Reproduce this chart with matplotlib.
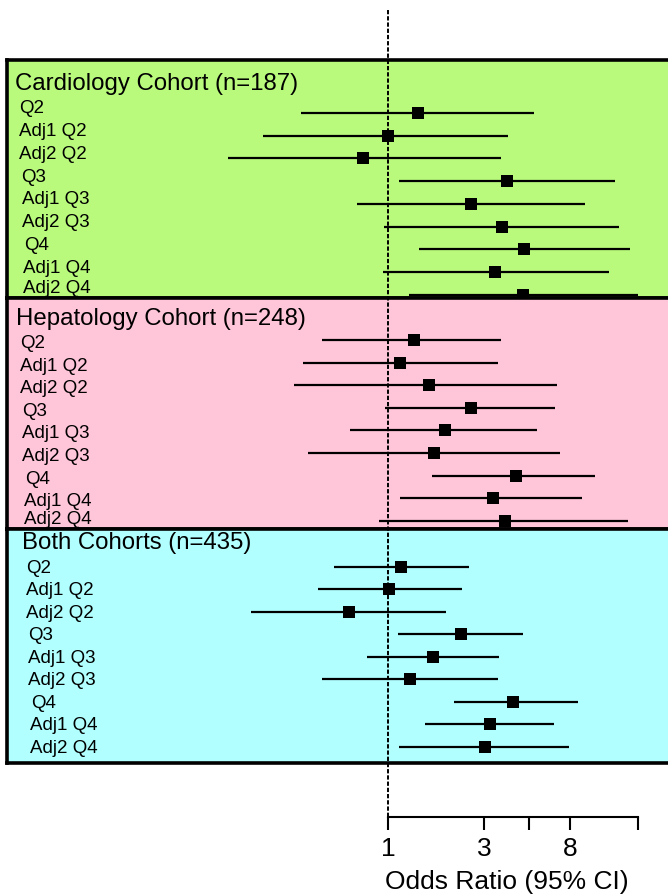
import numpy as np
import matplotlib.pyplot as plt
from matplotlib.lines import Line2D
from matplotlib.ticker import NullLocator
from matplotlib.transforms import blended_transform_factory

plt.rcParams['font.family'] = ['Liberation Sans', 'DejaVu Sans']

rows = ["Q2", "Adj1 Q2", "Adj2 Q2", "Q3", "Adj1 Q3", "Adj2 Q3", "Q4", "Adj1 Q4", "Adj2 Q4"]
cohorts = ["Cardiology Cohort (n=187)", "Hepatology Cohort (n=248)", "Both Cohorts (n=435)"]

# odds ratios with 95% CI
cardio_or = [1.41, 1.00, 0.75, 3.91, 2.59, 3.69, 4.75, 3.41, 4.69]
cardio_lo = [0.37, 0.24, 0.16, 1.14, 0.70, 0.96, 1.42, 0.94, 1.27]
cardio_hi = [5.29, 3.93, 3.63, 13.4, 9.50, 14.0, 15.8, 12.5, 17.4]

hepato_or = [1.34, 1.15, 1.59, 2.59, 1.92, 1.70, 4.33, 3.33, 3.82]
hepato_lo = [0.47, 0.38, 0.34, 0.97, 0.65, 0.40, 1.66, 1.15, 0.90]
hepato_hi = [3.63, 3.50, 6.92, 6.74, 5.47, 7.17, 10.7, 9.15, 15.6]

both_or = [1.16, 1.01, 0.64, 2.31, 1.68, 1.29, 4.19, 3.22, 3.04]
both_lo = [0.54, 0.45, 0.21, 1.12, 0.79, 0.47, 2.13, 1.53, 1.13]
both_hi = [2.53, 2.33, 1.95, 4.66, 3.57, 3.52, 8.74, 6.69, 7.94]

tick_vals = [1, 3, 5, 8, 17.5]
tick_labels = ["1", "3", "", "8", ""]

colors = ["#b9fa7c", "#ffc5d9", "#b2ffff"]

# layout in pixels (from top)
W, H = 668, 894
X_ONE = 388          # px where OR = 1
PX_PER_LN = 87.5
LEFT, RIGHT = 7, 672
panel_top = [60, 298, 529]
panel_bot = [298, 529, 763]
row0 = [113, 340, 567]
row_step = [22.75, 22.6, 22.45]
title_base = [90, 325.5, 549.5]
title_x = [15, 16, 22]
label_x = [19, 20, 26]
label_dy = [0.5, 8, 6]
label_shift = [0, 0, 0, 2.5, 2.5, 2.5, 5, 4, 4]


def or_at(px):
    return np.exp((px - X_ONE) / PX_PER_LN)


xlim = (or_at(LEFT), or_at(RIGHT))
fig = plt.figure(figsize=(W / 100, H / 100), dpi=100)

data = [(cardio_or, cardio_lo, cardio_hi),
        (hepato_or, hepato_lo, hepato_hi),
        (both_or, both_lo, both_hi)]

for k in range(3):
    top, bot = panel_top[k], panel_bot[k]
    ax = fig.add_axes([LEFT / W, 1 - bot / H, (RIGHT - LEFT) / W, (bot - top) / H])
    ax.set_facecolor(colors[k])
    ax.set_xscale('log')
    ax.set_xlim(*xlim)
    ax.set_ylim(bot, top)
    ax.tick_params(axis='both', which='both', bottom=False, left=False,
                   labelbottom=False, labelleft=False)
    for s in ax.spines.values():
        s.set_linewidth(2.6)

    ors, lo, hi = data[k]
    y = row0[k] + row_step[k] * np.arange(len(rows))
    ax.hlines(y, lo, hi, color='black', lw=1.6)
    ax.plot(ors, y, 's', color='black', ms=8, mew=0)

    tr = blended_transform_factory(ax.transAxes, ax.transData)
    def fx(px):
        return (px - LEFT) / (RIGHT - LEFT)
    ax.text(fx(title_x[k]), title_base[k], cohorts[k], transform=tr,
            fontsize=17.3, va='baseline', ha='left')
    for i, lab in enumerate(rows):
        yb = min(y[i] + label_dy[k], bot - 5)   # keep last label inside the box
        ax.text(fx(label_x[k] + label_shift[i]), yb, lab, transform=tr,
                fontsize=13.5, va='baseline', ha='left')

# odds ratio axis
axb = fig.add_axes([LEFT / W, 1 - 817 / H, (RIGHT - LEFT) / W, 20 / H])
axb.set_xscale('log')
axb.set_xlim(*xlim)
axb.patch.set_visible(False)
for side in ['top', 'left', 'right']:
    axb.spines[side].set_visible(False)
axb.spines['bottom'].set_bounds(1, 17.5)
axb.spines['bottom'].set_linewidth(1.5)
axb.set_yticks([])
axb.set_xticks(tick_vals)
axb.set_xticklabels(tick_labels)
axb.xaxis.set_minor_locator(NullLocator())
axb.tick_params(axis='x', direction='out', length=9.5, width=1.5, pad=5, labelsize=19)
fig.text(507 / W, 1 - 882 / H, "Odds Ratio (95% CI)", fontsize=19, ha='center', va='center')

# reference line at OR = 1
fig.add_artist(Line2D([X_ONE / W, X_ONE / W], [1 - 10 / H, 1 - 828 / H],
                      transform=fig.transFigure, color='black', lw=1.4,
                      linestyle=(0, (2.2, 1.0)), zorder=10))

fig.savefig("out.png", dpi=100)
